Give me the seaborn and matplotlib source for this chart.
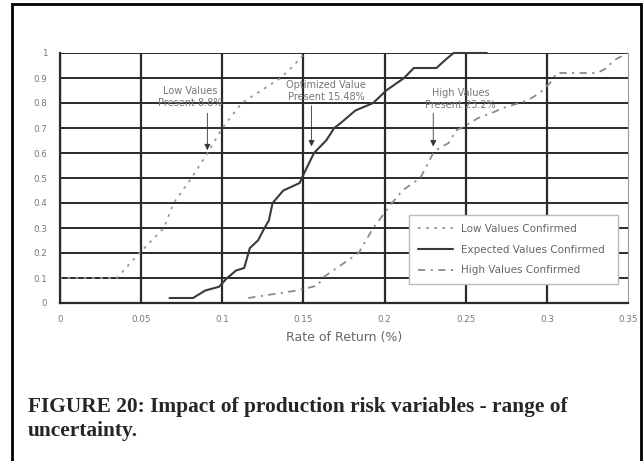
import numpy as np
import pandas as pd
import matplotlib
matplotlib.use('Agg')
import matplotlib.pyplot as plt
import matplotlib.patches as patches
import seaborn as sns

# cumulative probability curves
low_x = [0.0, 0.0, 0.035, 0.049, 0.064, 0.070, 0.081, 0.091, 0.100, 0.112, 0.124, 0.136, 0.144, 0.151]
low_y = [0.0, 0.1, 0.1, 0.2, 0.3, 0.4, 0.5, 0.6, 0.7, 0.8, 0.85, 0.9, 0.95, 1.0]

exp_x = [0.0675, 0.082, 0.0895, 0.098, 0.103, 0.1085, 0.1135, 0.117, 0.122, 0.126, 0.1287, 0.131,
         0.1376, 0.1477, 0.149, 0.1565, 0.164, 0.169, 0.173, 0.182, 0.193, 0.201, 0.212, 0.218,
         0.232, 0.237, 0.2425, 0.263]
exp_y = [0.02, 0.02, 0.05, 0.065, 0.1, 0.13, 0.14, 0.22, 0.25, 0.3, 0.33, 0.4,
         0.45, 0.48, 0.5, 0.6, 0.65, 0.7, 0.72, 0.77, 0.8, 0.85, 0.9, 0.94,
         0.94, 0.97, 1.0, 1.0]

high_x = [0.116, 0.146, 0.159, 0.1616, 0.184, 0.193, 0.2046, 0.211, 0.222, 0.230, 0.2337, 0.2395,
          0.244, 0.250, 0.2577, 0.266, 0.273, 0.288, 0.2956, 0.302, 0.306, 0.331, 0.337, 0.341, 0.35]
high_y = [0.02, 0.05, 0.07, 0.1, 0.2, 0.3, 0.4, 0.45, 0.5, 0.6, 0.62, 0.64,
          0.69, 0.71, 0.74, 0.76, 0.78, 0.81, 0.84, 0.88, 0.92, 0.92, 0.94, 0.97, 1.0]

series_names = ['Low Values Confirmed', 'Expected Values Confirmed', 'High Values Confirmed']

ann_text = ['Low Values\nPresent 8.8%', 'Optimized Value\nPresent 15.48%', 'High Values\nPresent 23.2%']
ann_text_xy = [(0.080, 0.825), (0.164, 0.848), (0.247, 0.815)]
ann_tip = [(0.0908, 0.600), (0.155, 0.615), (0.230, 0.615)]
ann_tail_y = [0.77, 0.80, 0.77]

x_ticks = [0, 0.05, 0.1, 0.15, 0.2, 0.25, 0.3, 0.35]
x_labels = ['0', '0.05', '0.1', '0.15', '0.2', '0.25', '0.3', '0.35']
y_ticks = [0, 0.1, 0.2, 0.3, 0.4, 0.5, 0.6, 0.7, 0.8, 0.9, 1.0]
y_labels = ['0', '0.1', '0.2', '0.3', '0.4', '0.5', '0.6', '0.7', '0.8', '0.9', '1']

sns.set_style('white')
plt.rcParams['font.family'] = ['DejaVu Sans']

fig = plt.figure(figsize=(6.44, 4.61), dpi=100)
ax = fig.add_axes([60 / 644, 1 - 303 / 461, 568 / 644, 250 / 461])

df_low = pd.DataFrame({'x': low_x, 'y': low_y})
df_exp = pd.DataFrame({'x': exp_x, 'y': exp_y})
df_high = pd.DataFrame({'x': high_x, 'y': high_y})

sns.lineplot(data=df_low, x='x', y='y', sort=False, estimator=None, ax=ax,
             color='#9a9a9a', lw=1.3, linestyle=(0, (1.5, 3)), label=series_names[0], clip_on=False)
sns.lineplot(data=df_exp, x='x', y='y', sort=False, estimator=None, ax=ax,
             color='#3a3a3a', lw=1.5, label=series_names[1], clip_on=False)
sns.lineplot(data=df_high, x='x', y='y', sort=False, estimator=None, ax=ax,
             color='#8a8a8a', lw=1.3, linestyle=(0, (4, 3, 1.2, 3)), label=series_names[2], clip_on=False)

ax.set_xlim(0, 0.35)
ax.set_ylim(0, 1)
ax.set_xticks(x_ticks)
ax.set_xticklabels(x_labels)
ax.set_yticks(y_ticks)
ax.set_yticklabels(y_labels)
ax.tick_params(axis='both', labelsize=6.3, labelcolor='#777777', direction='out',
               length=3, width=1, color='#333333', pad=6)

ax.grid(True, axis='y', color='#2a2a2a', lw=1.4)
ax.grid(True, axis='x', color='#2a2a2a', lw=1.6)
ax.xaxis.get_gridlines()[-1].set_visible(False)
ax.set_axisbelow(True)

for side in ['left', 'bottom']:
    ax.spines[side].set_color('#2a2a2a')
    ax.spines[side].set_linewidth(1.6)
ax.spines['top'].set_visible(False)
ax.spines['right'].set_color('#999999')
ax.spines['right'].set_linewidth(0.8)

ax.set_xlabel('Rate of Return (%)', fontsize=9, color='#666666', labelpad=5)
ax.set_ylabel('')

for txt, (tx, ty), (px, py), tail in zip(ann_text, ann_text_xy, ann_tip, ann_tail_y):
    ax.text(tx, ty, txt, ha='center', va='center', fontsize=7, color='#777777', linespacing=1.25)
    ax.annotate('', xy=(px, py), xytext=(px, tail),
                arrowprops=dict(arrowstyle='-|>', color='#333333', lw=0.6, mutation_scale=9))

leg = ax.legend(loc='lower left', bbox_to_anchor=(0.606, 0.056, 0.386, 0.28), mode='expand',
                fontsize=7.5, handlelength=3.4, labelspacing=1.05, borderpad=0.8,
                frameon=True, fancybox=False, framealpha=1, edgecolor='#bbbbbb')
for t in leg.get_texts():
    t.set_color('#666666')

# outer frame of the scanned page
fig.patches.append(patches.Rectangle((12 / 644, -0.05), 629 / 644, 1 - 4 / 461 + 0.05,
                                     transform=fig.transFigure, fill=False,
                                     edgecolor='black', lw=2))

fig.text(28 / 644, 1 - 407 / 461, 'FIGURE 20: Impact of production risk variables - range of',
         family='Liberation Serif', weight='bold', fontsize=15.4, va='center', ha='left')
fig.text(28 / 644, 1 - 431 / 461, 'uncertainty.',
         family='Liberation Serif', weight='bold', fontsize=15.4, va='center', ha='left')

fig.savefig('out.png', dpi=100)
